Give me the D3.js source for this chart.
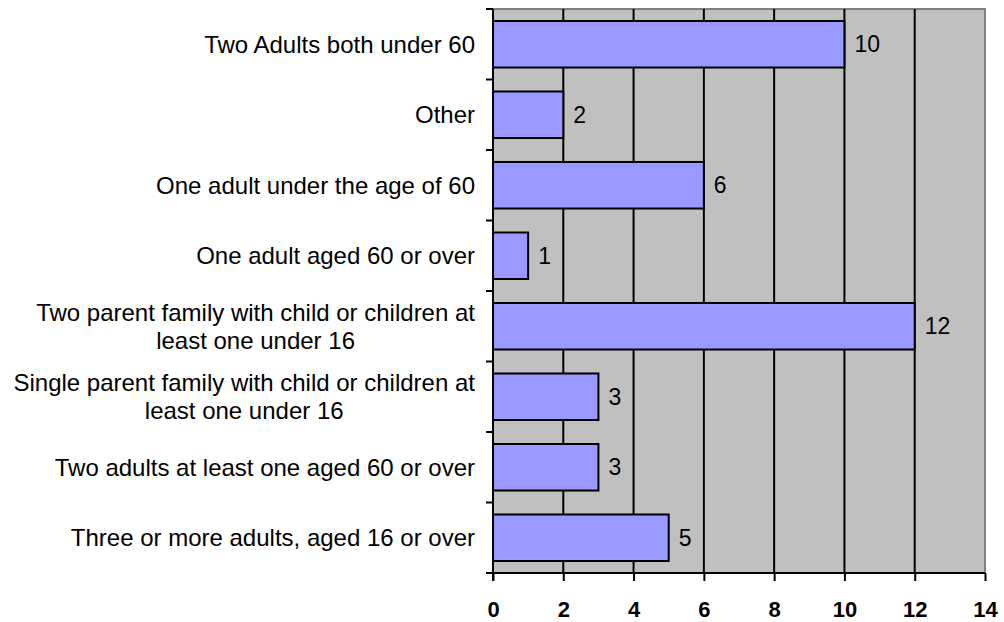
<!DOCTYPE html>
<html>
<head>
<meta charset="utf-8">
<script src="https://cdn.jsdelivr.net/npm/d3@7"></script>
<style>
  body { margin: 0; background: #fff; }
  text { font-family: "Liberation Sans", Arial, Helvetica, sans-serif; fill: #000; }
</style>
</head>
<body>
<div id="chart"></div>
<script>
// categories top to bottom, each label split into lines
var categories = [
  ["Two Adults both under 60"],
  ["Other"],
  ["One adult under the age of 60"],
  ["One adult aged 60 or over"],
  ["Two parent family with child or children at", "least one under 16"],
  ["Single parent family with child or children at", "least one under 16"],
  ["Two adults at least one aged 60 or over"],
  ["Three or more adults, aged 16 or over"]
];
var values = [10, 2, 6, 1, 12, 3, 3, 5];
var xTicks = [0, 2, 4, 6, 8, 10, 12, 14];

var width = 1004, height = 622;
var plot = {left: 493, right: 985, top: 9, bottom: 573};
var labelSize = 24, valueSize = 23, tickSize = 22;

var svg = d3.select("#chart").append("svg")
    .attr("width", width)
    .attr("height", height);

var keys = categories.map(function(d, i){ return i; });

var x = d3.scaleLinear()
    .domain([0, 14])
    .range([plot.left, plot.right]);

var y = d3.scaleBand()
    .domain(keys)
    .range([plot.top, plot.bottom])
    .paddingInner(0.34)
    .paddingOuter(0.17);

// band edges for the category ticks
var yEdge = d3.scaleBand()
    .domain(keys)
    .range([plot.top, plot.bottom]);

// plot background
svg.append("rect")
    .attr("x", plot.left)
    .attr("y", plot.top)
    .attr("width", plot.right - plot.left)
    .attr("height", plot.bottom - plot.top)
    .attr("fill", "#c0c0c0");

// top and right border
svg.append("path")
    .attr("d", "M" + plot.left + "," + plot.top + "H" + plot.right + "V" + plot.bottom)
    .attr("fill", "none")
    .attr("stroke", "#808080")
    .attr("stroke-width", 2);

// vertical gridlines
svg.selectAll("line.grid")
    .data(xTicks.slice(1, -1))
  .enter().append("line")
    .attr("class", "grid")
    .attr("x1", function(d){ return x(d); })
    .attr("x2", function(d){ return x(d); })
    .attr("y1", plot.top)
    .attr("y2", plot.bottom)
    .attr("stroke", "#000")
    .attr("stroke-width", 2);

// bars
svg.selectAll("rect.bar")
    .data(values)
  .enter().append("rect")
    .attr("class", "bar")
    .attr("x", x(0))
    .attr("y", function(d, i){ return y(i); })
    .attr("width", function(d){ return x(d) - x(0); })
    .attr("height", y.bandwidth())
    .attr("fill", "#9999ff")
    .attr("stroke", "#000")
    .attr("stroke-width", 2);

// value labels
svg.selectAll("text.value")
    .data(values)
  .enter().append("text")
    .attr("class", "value")
    .attr("x", function(d){ return x(d) + 10; })
    .attr("y", function(d, i){ return y(i) + y.bandwidth() / 2; })
    .attr("dy", "0.35em")
    .style("font-size", valueSize + "px")
    .text(function(d){ return d; });

// y axis line and ticks
svg.append("line")
    .attr("x1", plot.left).attr("x2", plot.left)
    .attr("y1", plot.top).attr("y2", plot.bottom + 8)
    .attr("stroke", "#000").attr("stroke-width", 2);

var edges = keys.map(function(i){ return yEdge(i); }).concat([plot.bottom]);
svg.selectAll("line.ytick")
    .data(edges)
  .enter().append("line")
    .attr("class", "ytick")
    .attr("x1", plot.left - 7).attr("x2", plot.left)
    .attr("y1", function(d){ return d; })
    .attr("y2", function(d){ return d; })
    .attr("stroke", "#000").attr("stroke-width", 2);

// category labels: right aligned block, lines centred within it
var labelRight = 475;
var lineGap = 28;
categories.forEach(function(lines, i){
  var g = svg.append("g");
  var cy = y(i) + y.bandwidth() / 2;
  var t = g.selectAll("text")
      .data(lines)
    .enter().append("text")
      .attr("y", function(d, j){ return cy + (j - (lines.length - 1) / 2) * lineGap; })
      .attr("dy", "0.35em")
      .style("font-size", labelSize + "px")
      .text(function(d){ return d; });
  var maxW = d3.max(t.nodes(), function(n){ return n.getComputedTextLength(); });
  t.attr("x", labelRight - maxW / 2)
   .attr("text-anchor", "middle");
});

// x axis
var xAxis = svg.append("g")
    .attr("transform", "translate(0," + plot.bottom + ")")
    .call(d3.axisBottom(x).tickValues(xTicks).tickSize(8).tickPadding(20));
xAxis.select(".domain").attr("stroke-width", 2).attr("d", "M" + (plot.left - 7) + ",0H" + plot.right);
xAxis.selectAll(".tick line").attr("stroke-width", 2);
xAxis.selectAll(".tick text")
    .style("font-family", "'Liberation Sans', Arial, Helvetica, sans-serif")
    .style("font-size", tickSize + "px")
    .style("font-weight", "bold");
</script>
</body>
</html>
